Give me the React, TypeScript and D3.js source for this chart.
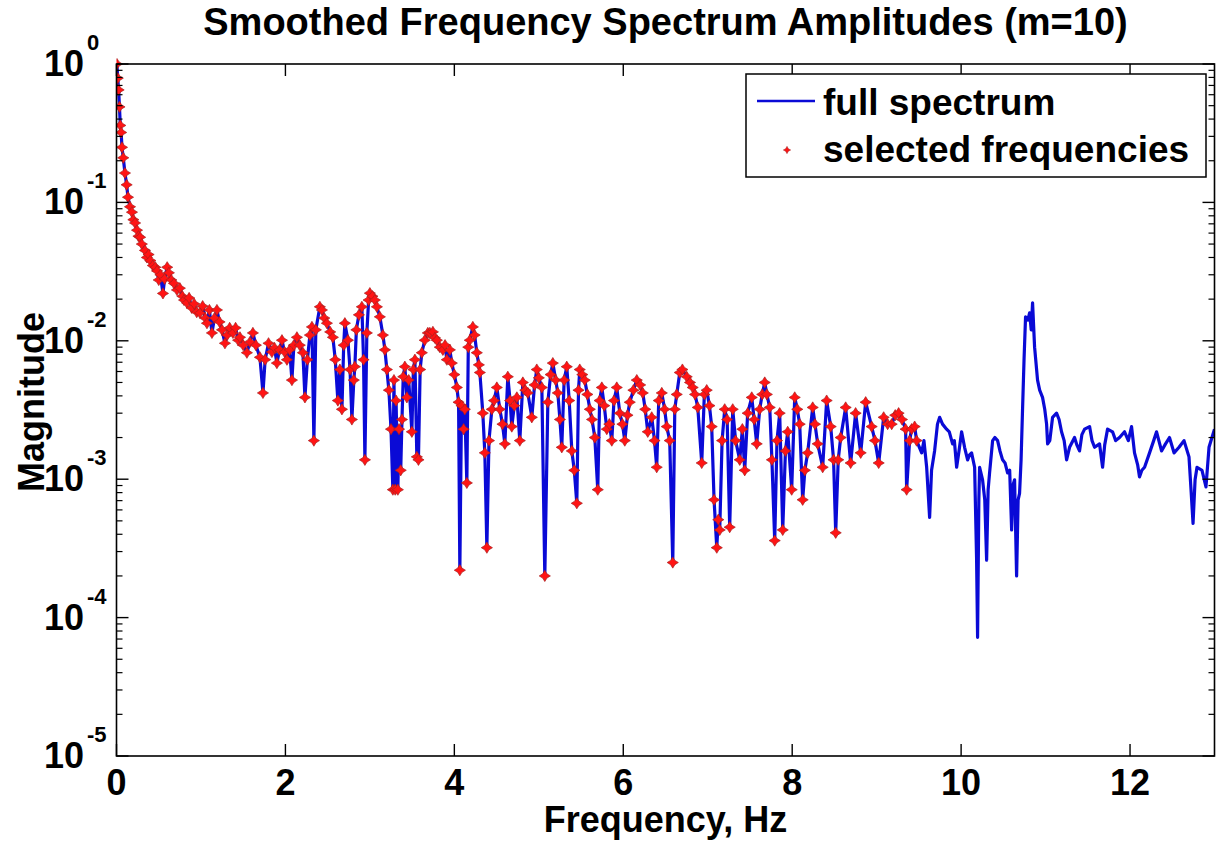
import React from "react";
import * as d3 from "d3";

// Frequencies (Hz) of the full spectrum
const freqHz: number[] = [
  0.005, 0.015, 0.025, 0.035, 0.045, 0.055, 0.065, 0.08, 0.1, 0.12, 0.136, 0.16, 0.183, 0.2, 0.22, 0.243, 0.26, 0.28, 0.3, 0.337,
  0.36, 0.38, 0.4, 0.43, 0.46, 0.48, 0.5, 0.52, 0.55, 0.57, 0.6, 0.62, 0.65, 0.68, 0.716, 0.75, 0.78, 0.8, 0.834, 0.86,
  0.89, 0.92, 0.95, 0.988, 1.02, 1.05, 1.071, 1.1, 1.13, 1.16, 1.189, 1.22, 1.249, 1.284, 1.31, 1.34, 1.379, 1.41, 1.44, 1.462,
  1.5, 1.544, 1.58, 1.615, 1.65, 1.698, 1.734, 1.76, 1.8, 1.84, 1.87, 1.899, 1.93, 1.959, 1.99, 2.018, 2.05, 2.077, 2.1, 2.136,
  2.17, 2.207, 2.231, 2.26, 2.29, 2.314, 2.337, 2.36, 2.408, 2.432, 2.46, 2.491, 2.53, 2.562, 2.59, 2.621, 2.645, 2.669, 2.69, 2.704,
  2.74, 2.765, 2.787, 2.81, 2.822, 2.84, 2.87, 2.905, 2.925, 2.941, 2.964, 2.985, 3.0, 3.03, 3.059, 3.083, 3.118, 3.154, 3.178, 3.201,
  3.225, 3.25, 3.272, 3.285, 3.3, 3.31, 3.331, 3.345, 3.365, 3.38, 3.395, 3.414, 3.438, 3.46, 3.497, 3.515, 3.533, 3.556, 3.575, 3.595,
  3.615, 3.65, 3.686, 3.71, 3.746, 3.77, 3.793, 3.828, 3.864, 3.89, 3.911, 3.947, 3.97, 4.0, 4.03, 4.05, 4.065, 4.085, 4.11, 4.124,
  4.148, 4.165, 4.183, 4.219, 4.24, 4.266, 4.29, 4.302, 4.337, 4.361, 4.385, 4.41, 4.444, 4.47, 4.503, 4.538, 4.57, 4.598, 4.633, 4.66,
  4.68, 4.71, 4.74, 4.775, 4.811, 4.84, 4.87, 4.917, 4.95, 4.976, 5.0, 5.036, 5.071, 5.107, 5.14, 5.166, 5.2, 5.225, 5.25, 5.272,
  5.3, 5.331, 5.36, 5.391, 5.42, 5.45, 5.47, 5.485, 5.515, 5.544, 5.575, 5.604, 5.63, 5.663, 5.698, 5.72, 5.746, 5.775, 5.805, 5.835,
  5.864, 5.89, 5.923, 5.959, 5.99, 6.018, 6.05, 6.077, 6.12, 6.16, 6.2, 6.231, 6.26, 6.29, 6.337, 6.37, 6.396, 6.42, 6.456, 6.49,
  6.515, 6.55, 6.586, 6.61, 6.633, 6.669, 6.7, 6.751, 6.79, 6.822, 6.85, 6.882, 6.929, 6.96, 6.988, 7.02, 7.047, 7.075, 7.107, 7.125,
  7.142, 7.17, 7.201, 7.23, 7.26, 7.296, 7.33, 7.379, 7.41, 7.438, 7.473, 7.521, 7.55, 7.58, 7.615, 7.645, 7.675, 7.7, 7.734, 7.76,
  7.793, 7.82, 7.852, 7.888, 7.92, 7.947, 7.994, 8.03, 8.06, 8.089, 8.124, 8.15, 8.183, 8.243, 8.27, 8.302, 8.361, 8.408, 8.456, 8.49,
  8.515, 8.545, 8.574, 8.633, 8.692, 8.751, 8.811, 8.87, 8.941, 8.98, 9.024, 9.083, 9.13, 9.178, 9.22, 9.26, 9.3, 9.343, 9.355, 9.39,
  9.414, 9.45, 9.473, 9.533, 9.56, 9.592, 9.627, 9.65, 9.686, 9.72, 9.746, 9.78, 9.828, 9.86, 9.899, 9.92, 9.947, 9.975, 10.006, 10.041,
  10.077, 10.1, 10.124, 10.16, 10.183, 10.195, 10.21, 10.219, 10.254, 10.28, 10.302, 10.32, 10.337, 10.373, 10.4, 10.432, 10.46, 10.491, 10.52, 10.55,
  10.575, 10.598, 10.615, 10.633, 10.657, 10.675, 10.692, 10.71, 10.728, 10.745, 10.763, 10.79, 10.811, 10.83, 10.846, 10.87, 10.905, 10.93, 10.964, 10.99,
  11.012, 11.024, 11.05, 11.083, 11.13, 11.16, 11.189, 11.22, 11.249, 11.284, 11.343, 11.37, 11.402, 11.43, 11.462, 11.521, 11.55, 11.58, 11.639, 11.675,
  11.7, 11.734, 11.793, 11.83, 11.876, 11.935, 11.98, 12.018, 12.053, 12.09, 12.112, 12.14, 12.172, 12.231, 12.28, 12.314, 12.373, 12.42, 12.467, 12.521,
  12.58, 12.639, 12.698, 12.72, 12.746, 12.77, 12.793, 12.852, 12.899, 12.935, 12.97, 13.0,
];

// Magnitudes of the full spectrum
const magnitude: number[] = [
  1.0, 0.79, 0.65, 0.49, 0.36, 0.32, 0.25, 0.21, 0.163, 0.134, 0.109, 0.093, 0.085, 0.075, 0.071, 0.063, 0.057, 0.056, 0.05, 0.045,
  0.04, 0.042, 0.038, 0.035, 0.034, 0.032, 0.0275, 0.03, 0.022, 0.028, 0.034, 0.031, 0.0275, 0.026, 0.0233, 0.024, 0.021, 0.0197, 0.0188, 0.0204,
  0.0173, 0.0185, 0.0161, 0.0159, 0.0178, 0.0146, 0.0134, 0.0167, 0.0114, 0.0146, 0.0167, 0.0137, 0.012, 0.0096, 0.011, 0.0124, 0.0114, 0.0124, 0.0101, 0.0106,
  0.0093, 0.0082, 0.0098, 0.0114, 0.0093, 0.0076, 0.0042, 0.0073, 0.0096, 0.0083, 0.0089, 0.0069, 0.0086, 0.0101, 0.0083, 0.0073, 0.0086, 0.0052, 0.0093, 0.0106,
  0.0093, 0.0082, 0.0039, 0.0073, 0.011, 0.0126, 0.0019, 0.012, 0.0176, 0.0167, 0.0146, 0.0134, 0.0116, 0.0106, 0.0073, 0.0037, 0.0062, 0.0032, 0.0093, 0.0134,
  0.0101, 0.0062, 0.0027, 0.0052, 0.0065, 0.012, 0.0154, 0.0176, 0.0073, 0.00138, 0.0114, 0.0197, 0.0221, 0.021, 0.0197, 0.0176, 0.0149, 0.011, 0.0086, 0.0062,
  0.0044, 0.0023, 0.00084, 0.0052, 0.00084, 0.0037, 0.00084, 0.0023, 0.00116, 0.0027, 0.0055, 0.0065, 0.0039, 0.0052, 0.0022, 0.0062, 0.0073, 0.00145, 0.00138, 0.0062,
  0.0082, 0.0101, 0.0114, 0.0114, 0.0116, 0.0105, 0.0101, 0.009, 0.0086, 0.0093, 0.0073, 0.0086, 0.0069, 0.0057, 0.0046, 0.0036, 0.00022, 0.0034, 0.0023, 0.0032,
  0.00094, 0.009, 0.0101, 0.0126, 0.011, 0.0082, 0.0067, 0.0059, 0.003, 0.00155, 0.00032, 0.0019, 0.0032, 0.0037, 0.0046, 0.0032, 0.0025, 0.0018, 0.0055, 0.0037,
  0.0024, 0.0034, 0.0039, 0.0019, 0.005, 0.0044, 0.0042, 0.0028, 0.0048, 0.0062, 0.0054, 0.0046, 0.0002, 0.0036, 0.0057, 0.0069, 0.0052, 0.0042, 0.0027, 0.0017,
  0.0052, 0.0065, 0.0037, 0.0016, 0.00116, 0.00067, 0.0044, 0.0062, 0.0057, 0.0052, 0.0041, 0.0032, 0.0027, 0.002, 0.00084, 0.0037, 0.0046, 0.0034, 0.0023, 0.0025,
  0.0019, 0.0037, 0.0046, 0.003, 0.0025, 0.0019, 0.0029, 0.0036, 0.0044, 0.0052, 0.0048, 0.0042, 0.0032, 0.0022, 0.0028, 0.0019, 0.00122, 0.0037, 0.0042, 0.0032,
  0.0024, 0.0019, 0.00025, 0.0032, 0.0041, 0.0059, 0.0062, 0.0055, 0.005, 0.0046, 0.0041, 0.0033, 0.00131, 0.0041, 0.0044, 0.0034, 0.0024, 0.00071, 0.00032, 0.00051,
  0.00043, 0.0019, 0.0032, 0.0027, 0.00045, 0.0032, 0.0019, 0.00138, 0.0023, 0.00116, 0.003, 0.0039, 0.0027, 0.0018, 0.0032, 0.0041, 0.005, 0.0041, 0.0033, 0.00138,
  0.00036, 0.0019, 0.003, 0.00043, 0.0016, 0.0022, 0.00084, 0.0039, 0.0032, 0.0025, 0.00071, 0.00116, 0.00155, 0.0033, 0.0025, 0.0018, 0.00122, 0.0037, 0.0024, 0.00138,
  0.00041, 0.00138, 0.002, 0.0033, 0.00131, 0.003, 0.00155, 0.0036, 0.0024, 0.0019, 0.00131, 0.0028, 0.0025, 0.0025, 0.0029, 0.003, 0.0027, 0.0023, 0.00084, 0.0019,
  0.0023, 0.0024, 0.0019, 0.00155, 0.0019, 0.00122, 0.00053, 0.00116, 0.0016, 0.0025, 0.0028, 0.0025, 0.0023, 0.0022, 0.0018, 0.0019, 0.00122, 0.0016, 0.0022, 0.0017,
  0.00138, 0.0015, 0.00155, 0.00122, 0.00027, 0.000072, 0.00071, 0.00122, 0.00099, 0.00071, 0.00026, 0.00084, 0.00111, 0.0019, 0.002, 0.0019, 0.0016, 0.00138, 0.00131, 0.00111,
  0.00116, 0.00043, 0.00091, 0.00099, 0.0002, 0.00071, 0.00079, 0.00138, 0.0033, 0.0073, 0.0149, 0.0141, 0.0159, 0.012, 0.0188, 0.009, 0.0052, 0.0044, 0.0039, 0.0032,
  0.0025, 0.0018, 0.0019, 0.0028, 0.003, 0.0027, 0.0022, 0.0019, 0.00138, 0.0017, 0.002, 0.00177, 0.0016, 0.0021, 0.0023, 0.0024, 0.0019, 0.0017, 0.0018, 0.00122,
  0.00177, 0.0023, 0.0022, 0.0019, 0.002, 0.0022, 0.0019, 0.0024, 0.00155, 0.00127, 0.00104, 0.00116, 0.00122, 0.00155, 0.0019, 0.0022, 0.0016, 0.0018, 0.002, 0.00155,
  0.0017, 0.0019, 0.00145, 0.00088, 0.00048, 0.00099, 0.00122, 0.00116, 0.00088, 0.0017, 0.002, 0.0023,
];

// Frequencies up to this value are the "selected frequencies"
const selectedMaxHz = 9.5;

const xTicks: number[] = [0, 2, 4, 6, 8, 10, 12];
const yDecades: number[] = [0, -1, -2, -3, -4, -5];

const titleText = "Smoothed Frequency Spectrum Amplitudes (m=10)";
const xLabel = "Frequency, Hz";
const yLabel = "Magnitude";
const legendLabels = ["full spectrum", "selected frequencies"];

const W = 1222;
const H = 845;
const L = 116.5;
const R = 1214.5;
const T = 64;
const B = 756;
const FONT = "'Liberation Sans', Arial, Helvetica, sans-serif";

function starPath(outer: number, inner: number): string {
  const p = d3.path();
  for (let k = 0; k < 8; k++) {
    const a = (k * Math.PI) / 4 - Math.PI / 2;
    const r = k % 2 === 0 ? outer : inner;
    const px = r * Math.cos(a);
    const py = r * Math.sin(a);
    if (k === 0) p.moveTo(px, py);
    else p.lineTo(px, py);
  }
  p.closePath();
  return p.toString();
}

export default function App() {
  const x = d3.scaleLinear().domain([0, 13]).range([L, R]);
  const y = d3.scaleLog().domain([1e-5, 1]).range([B, T]);

  const pts = freqHz.map((f, i) => ({ f, m: magnitude[i] }));
  const sel = pts.filter((p) => p.f <= selectedMaxHz);

  const line = d3
    .line<{ f: number; m: number }>()
    .x((d) => x(d.f))
    .y((d) => y(d.m));

  const marker = starPath(5.6, 3);
  const legendMarker = starPath(3.6, 1.8);

  const minor: number[] = [];
  for (let e = -5; e < 0; e++) {
    for (let k = 2; k <= 9; k++) minor.push(k * Math.pow(10, e));
  }

  const tickColor = "#000";
  return (
    <svg
      width={W}
      height={H}
      style={{ position: "absolute", left: 0, top: 0, background: "#fff" }}
      fontFamily={FONT}
    >
      <rect x={0} y={0} width={W} height={H} fill="#fff" />
      <defs>
        <clipPath id="plotclip">
          <rect x={L} y={T - 6} width={R - L} height={B - T + 6} />
        </clipPath>
      </defs>

      {/* data */}
      <g clipPath="url(#plotclip)">
        <path d={line(pts) || ""} fill="none" stroke="#0a0ad6" strokeWidth={3.2} strokeLinejoin="round" />
        {sel.map((p, i) => (
          <path
            key={i}
            d={marker}
            transform={`translate(${x(p.f)},${y(p.m)})`}
            fill="#ff1414"
            stroke="#a82020"
            strokeWidth={0.7}
          />
        ))}
      </g>

      {/* axes box */}
      <rect x={L} y={T} width={R - L} height={B - T} fill="none" stroke="#000" strokeWidth={1.6} />

      {/* x ticks */}
      {xTicks.map((t) => (
        <g key={"xt" + t}>
          <line x1={x(t)} x2={x(t)} y1={B} y2={B - 12} stroke={tickColor} strokeWidth={1.4} />
          <line x1={x(t)} x2={x(t)} y1={T} y2={T + 12} stroke={tickColor} strokeWidth={1.4} />
          <text x={x(t)} y={795} textAnchor="middle" fontSize={36} fontWeight="bold" fill="#000">
            {t}
          </text>
        </g>
      ))}

      {/* y major ticks */}
      {yDecades.map((e) => {
        const yy = y(Math.pow(10, e));
        return (
          <g key={"yt" + e}>
            <line x1={L} x2={L + 12} y1={yy} y2={yy} stroke={tickColor} strokeWidth={1.4} />
            <line x1={R} x2={R - 12} y1={yy} y2={yy} stroke={tickColor} strokeWidth={1.4} />
            <text x={84} y={yy + 12} textAnchor="end" fontSize={36} fontWeight="bold" fill="#000">
              10
            </text>
            <text x={87} y={yy - 14} textAnchor="start" fontSize={22} fontWeight="bold" fill="#000">
              {String(e)}
            </text>
          </g>
        );
      })}

      {/* y minor ticks */}
      {minor.map((v, i) => {
        const yy = y(v);
        return (
          <g key={"mn" + i}>
            <line x1={L} x2={L + 6} y1={yy} y2={yy} stroke={tickColor} strokeWidth={1.2} />
            <line x1={R} x2={R - 6} y1={yy} y2={yy} stroke={tickColor} strokeWidth={1.2} />
          </g>
        );
      })}

      {/* title and labels */}
      <text x={(L + R) / 2} y={35} textAnchor="middle" fontSize={38} fontWeight="bold" fill="#000">
        {titleText}
      </text>
      <text x={(L + R) / 2} y={832} textAnchor="middle" fontSize={36} fontWeight="bold" fill="#000">
        {xLabel}
      </text>
      <text
        transform={`translate(44,${(T + B) / 2 - 8}) rotate(-90)`}
        textAnchor="middle"
        fontSize={36}
        fontWeight="bold"
        fill="#000"
      >
        {yLabel}
      </text>

      {/* legend */}
      <g>
        <rect x={746} y={74} width={460} height={103} fill="#fff" stroke="#000" strokeWidth={1.5} />
        <line x1={757} x2={815} y1={101} y2={101} stroke="#0a0ad6" strokeWidth={2.6} />
        <text x={823} y={115} fontSize={37} fontWeight="bold" fill="#000">
          {legendLabels[0]}
        </text>
        <path d={legendMarker} transform="translate(787,150)" fill="#ff1414" stroke="#a82020" strokeWidth={0.6} />
        <text x={823} y={162} fontSize={37} fontWeight="bold" fill="#000">
          {legendLabels[1]}
        </text>
      </g>
    </svg>
  );
}
